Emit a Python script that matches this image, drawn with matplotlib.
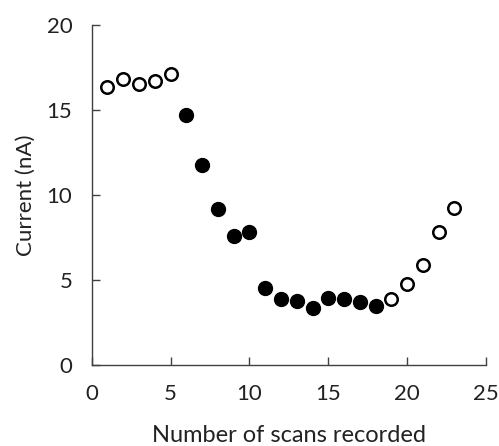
import matplotlib
matplotlib.use("Agg")
import matplotlib.pyplot as plt

plt.rcParams["font.family"] = ["Lato", "DejaVu Sans"]

# scan index and measured current
scans_open_a = [1, 2, 3, 4, 5]
current_open_a = [16.35, 16.8, 16.5, 16.7, 17.1]
scans_filled = [6, 7, 8, 9, 10, 11, 12, 13, 14, 15, 16, 17, 18]
current_filled = [14.7, 11.75, 9.15, 7.6, 7.8, 4.55, 3.9, 3.75, 3.35, 3.95, 3.9, 3.7, 3.5]
scans_open_b = [19, 20, 21, 22, 23]
current_open_b = [3.9, 4.75, 5.9, 7.85, 9.25]

axis_col = "#404040"
text_col = "#222222"

fig = plt.figure(figsize=(4.99, 4.46), dpi=100)
ax = fig.add_axes([0.1838, 0.1816, 0.7902, 0.7624])

ax.plot(scans_filled, current_filled, "o", ms=10, color="black", mec="black")
for xs, ys in [(scans_open_a, current_open_a), (scans_open_b, current_open_b)]:
    ax.plot(xs, ys, "o", ms=9, mfc="white", mec="black", mew=1.8)

ax.set_xlim(0, 25)
ax.set_ylim(0, 20)
ax.set_xticks([0, 5, 10, 15, 20, 25])
ax.set_yticks([0, 5, 10, 15, 20])
for s in ("top", "right"):
    ax.spines[s].set_visible(False)
for s in ("left", "bottom"):
    ax.spines[s].set_color(axis_col)
    ax.spines[s].set_linewidth(1.0)
ax.tick_params(direction="in", length=6, width=1.0, color=axis_col,
               labelsize=16, labelcolor=text_col)
ax.tick_params(axis="x", pad=14)
ax.tick_params(axis="y", pad=14)

ax.set_xlabel("Number of scans recorded", fontsize=17, color=text_col, labelpad=15)
ax.set_ylabel("Current (nA)", fontsize=16, color=text_col, labelpad=8)

fig.savefig("out.png", dpi=100)
